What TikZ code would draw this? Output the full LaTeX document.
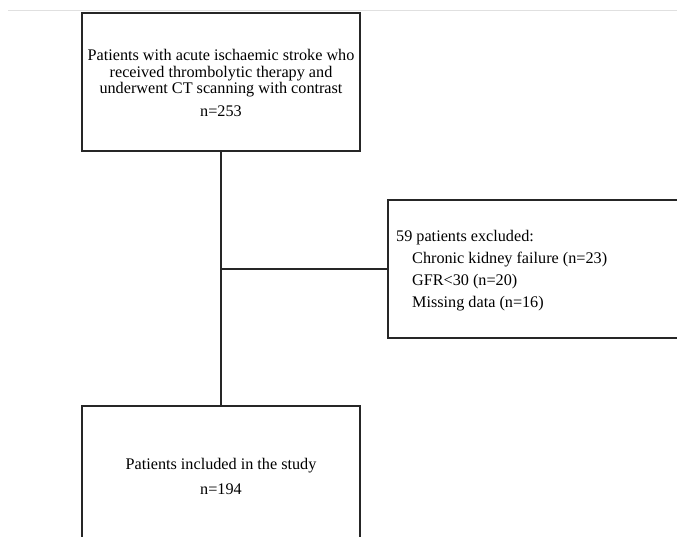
\documentclass[tikz,border=0pt]{standalone}
\usepackage{fontspec}
\setmainfont{Liberation Serif}
\begin{document}
\begin{tikzpicture}[x=1pt,y=-1pt,
  box/.style={draw=black!85, line width=1.3pt, rectangle, inner sep=0pt},
  conn/.style={draw=black!85, line width=1.3pt},
  txt/.style={inner sep=0pt, font=\fontsize{16.2}{16.5}\selectfont}]
\useasboundingbox (0,0) rectangle (677,537);
\clip (0,0) rectangle (677,537);
\draw[black!12, line width=0.8pt] (8,10) -- (677,10);
\node[box, minimum width=278pt, minimum height=138pt] (top) at (221,82) {};
\node[box, minimum width=312pt, minimum height=138pt] (excl) at (544,269) {};
\node[box, minimum width=278pt, minimum height=154pt] (incl) at (221,483) {};
\node[txt, align=center] (toptxt) at (221,83) {Patients with acute ischaemic stroke who\\ received thrombolytic therapy and\\ underwent CT scanning with contrast\\[6.5pt] n=253};
\node[txt, align=left, anchor=west, font=\fontsize{16.2}{22}\selectfont] (excltxt) at (396,271) {59 patients excluded:\\ \hspace{16pt}Chronic kidney failure (n=23)\\ \hspace{16pt}GFR<30 (n=20)\\ \hspace{16pt}Missing data (n=16)};
\node[txt, align=center, font=\fontsize{16.2}{25}\selectfont] (incltxt) at (221,476) {Patients included in the study\\ n=194};
\coordinate (j) at (top.south |- excl.west);
\draw[conn] (top.south) -- (incl.north);
\draw[conn] (j) -- (excl.west);
\end{tikzpicture}
\end{document}
